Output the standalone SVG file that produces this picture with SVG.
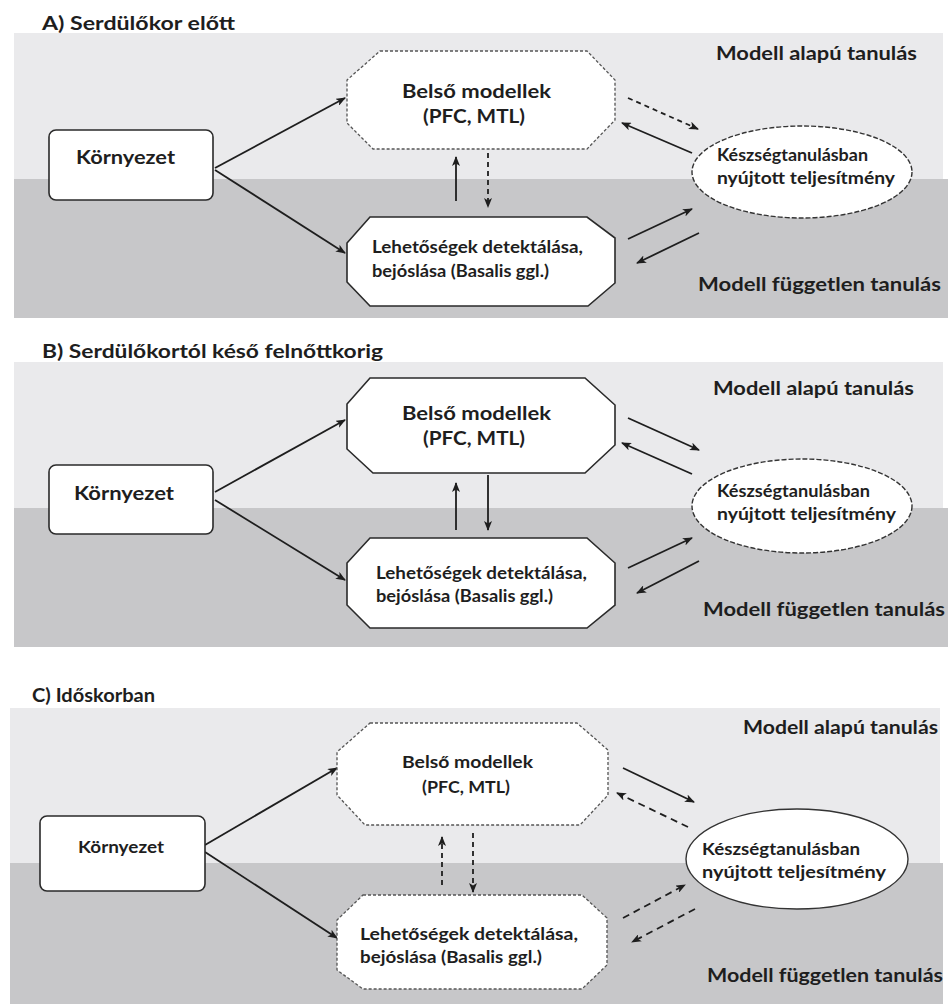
<svg xmlns="http://www.w3.org/2000/svg" width="950" height="1004" viewBox="0 0 950 1004">
<defs>
<style>
.light{fill:#eaeaec}
.dark{fill:#c7c7c9}
.box{fill:#fff;stroke:#2a2a2a;stroke-width:1.6}
.dot{fill:#fff;stroke:#555;stroke-width:1.3;stroke-dasharray:3 2}
.ell{fill:#fff;stroke:#333;stroke-width:1.4;stroke-dasharray:5 2}
.ells{fill:#fff;stroke:#333;stroke-width:1.4}
.t{font-family:Lato,"Open Sans","Liberation Sans",sans-serif;font-weight:bold;fill:#1e1e1e}
.a{fill:none;stroke:#1e1e1e;stroke-width:1.8;marker-end:url(#ah)}
.d{stroke-dasharray:5 4}
.d2{stroke-dasharray:7 5}
</style>
<marker id="ah" viewBox="0 0 10 8" markerWidth="10" markerHeight="8" refX="9" refY="4" orient="auto" markerUnits="userSpaceOnUse">
<path d="M0,0 L10,4 L0,8 L2.5,4 Z" fill="#1e1e1e"/>
</marker>
</defs>

<g id="backgrounds">
<rect class="light" x="14" y="33" width="929" height="146"/>
<rect class="dark" x="14" y="179" width="934" height="139"/>
<rect class="light" x="14" y="362" width="929" height="146"/>
<rect class="dark" x="14" y="508" width="934" height="139"/>
<rect class="light" x="10" y="708" width="930" height="155"/>
<rect class="dark" x="10" y="863" width="933" height="141"/>
</g>

<g id="titles">
<text class="t" x="42" y="30" font-size="19" textLength="193" lengthAdjust="spacingAndGlyphs">A) Serdülőkor előtt</text>
<text class="t" x="42" y="358" font-size="19" textLength="341" lengthAdjust="spacingAndGlyphs">B) Serdülőkortól késő felnőttkorig</text>
<text class="t" x="32" y="702" font-size="18" textLength="123" lengthAdjust="spacingAndGlyphs">C) Időskorban</text>
</g>

<g id="region-labels">
<text class="t" x="716" y="60" font-size="19.5" textLength="201" lengthAdjust="spacingAndGlyphs">Modell alapú tanulás</text>
<text class="t" x="698" y="291" font-size="19.5" textLength="243" lengthAdjust="spacingAndGlyphs">Modell független tanulás</text>
<text class="t" x="713" y="395" font-size="19.5" textLength="201" lengthAdjust="spacingAndGlyphs">Modell alapú tanulás</text>
<text class="t" x="703" y="616" font-size="19.5" textLength="242" lengthAdjust="spacingAndGlyphs">Modell független tanulás</text>
<text class="t" x="743" y="734" font-size="19" textLength="195" lengthAdjust="spacingAndGlyphs">Modell alapú tanulás</text>
<text class="t" x="707" y="982" font-size="19" textLength="236" lengthAdjust="spacingAndGlyphs">Modell független tanulás</text>
</g>

<g id="connectors">
<path class="a" d="M215,168 L345,98"/>
<path class="a" d="M215,170 L345,253"/>
<path class="a" d="M456,201 L456,157"/>
<path class="a d" d="M488,153 L488,207"/>
<path class="a d" d="M628,98 L698,129"/>
<path class="a" d="M692,153 L622,123"/>
<path class="a" d="M628,239 L692,209"/>
<path class="a" d="M699,233 L637,263"/>

<path class="a" d="M215,492 L345,420"/>
<path class="a" d="M215,500 L345,580"/>
<path class="a" d="M456,530 L456,483"/>
<path class="a" d="M488,475 L488,530"/>
<path class="a" d="M628,418 L699,450"/>
<path class="a" d="M692,474 L622,443"/>
<path class="a" d="M628,568 L692,538"/>
<path class="a" d="M699,561 L637,593"/>

<path class="a" d="M205,845 L337,768"/>
<path class="a" d="M205,852 L337,938"/>
<path class="a d" d="M442,885 L442,837"/>
<path class="a d" d="M473,833 L473,892"/>
<path class="a" d="M623,768 L694,802"/>
<path class="a d2" d="M688,827 L617,793"/>
<path class="a d2" d="M623,918 L685,885"/>
<path class="a d2" d="M695,909 L632,942"/>
</g>

<g id="A-kornyezet">
<rect class="box" x="49" y="130" width="164" height="70" rx="7"/>
<text class="t" x="76" y="164" font-size="19.5" textLength="99" lengthAdjust="spacingAndGlyphs">Környezet</text>
</g>
<g id="A-belso">
<path class="dot" d="M380,51 L587,51 L615,80 L615,120 L587,149 L373,149 L347,123 L347,80 Z"/>
<text class="t" x="402" y="98" font-size="19" textLength="149" lengthAdjust="spacingAndGlyphs">Belső modellek</text>
<text class="t" x="423" y="123" font-size="19" textLength="102" lengthAdjust="spacingAndGlyphs">(PFC, MTL)</text>
</g>
<g id="A-lehetosegek">
<path class="box" d="M370,217 L587,217 L615,238 L615,283 L588,306 L370,306 L347,282 L347,243 Z"/>
<text class="t" x="372" y="253" font-size="16.5" textLength="211" lengthAdjust="spacingAndGlyphs">Lehetőségek detektálása,</text>
<text class="t" x="372" y="277" font-size="16.5" textLength="177" lengthAdjust="spacingAndGlyphs">bejóslása (Basalis ggl.)</text>
</g>
<g id="A-teljesitmeny">
<ellipse class="ell" cx="802" cy="172" rx="110" ry="46"/>
<text class="t" x="717" y="161" font-size="16.5" textLength="151" lengthAdjust="spacingAndGlyphs">Készségtanulásban</text>
<text class="t" x="717" y="184" font-size="16.5" textLength="178" lengthAdjust="spacingAndGlyphs">nyújtott teljesítmény</text>
</g>

<g id="B-kornyezet">
<rect class="box" x="49" y="465" width="164" height="69" rx="7"/>
<text class="t" x="74" y="500" font-size="19.5" textLength="100" lengthAdjust="spacingAndGlyphs">Környezet</text>
</g>
<g id="B-belso">
<path class="box" d="M370,378 L585,378 L615,405 L615,445 L585,473 L373,473 L347,449 L347,404 Z"/>
<text class="t" x="402" y="420" font-size="19" textLength="149" lengthAdjust="spacingAndGlyphs">Belső modellek</text>
<text class="t" x="423" y="445" font-size="19" textLength="102" lengthAdjust="spacingAndGlyphs">(PFC, MTL)</text>
</g>
<g id="B-lehetosegek">
<path class="box" d="M370,538 L587,538 L615,563 L615,605 L587,628 L370,628 L347,605 L347,563 Z"/>
<text class="t" x="376" y="579" font-size="16.5" textLength="211" lengthAdjust="spacingAndGlyphs">Lehetőségek detektálása,</text>
<text class="t" x="376" y="602" font-size="16.5" textLength="177" lengthAdjust="spacingAndGlyphs">bejóslása (Basalis ggl.)</text>
</g>
<g id="B-teljesitmeny">
<ellipse class="ell" cx="802" cy="506" rx="110" ry="47"/>
<text class="t" x="717" y="497" font-size="16.5" textLength="153" lengthAdjust="spacingAndGlyphs">Készségtanulásban</text>
<text class="t" x="717" y="520" font-size="16.5" textLength="179" lengthAdjust="spacingAndGlyphs">nyújtott teljesítmény</text>
</g>

<g id="C-kornyezet">
<rect class="box" x="40" y="816" width="165" height="75" rx="7"/>
<text class="t" x="78" y="853" font-size="17.5" textLength="86" lengthAdjust="spacingAndGlyphs">Környezet</text>
</g>
<g id="C-belso">
<path class="dot" d="M370,723 L577,723 L608,750 L608,795 L580,825 L365,825 L337,795 L337,752 Z"/>
<text class="t" x="402" y="768" font-size="17" textLength="131" lengthAdjust="spacingAndGlyphs">Belső modellek</text>
<text class="t" x="422" y="793" font-size="17" textLength="88" lengthAdjust="spacingAndGlyphs">(PFC, MTL)</text>
</g>
<g id="C-lehetosegek">
<path class="dot" d="M363,895 L582,895 L607,918 L607,965 L582,989 L363,989 L337,970 L337,920 Z"/>
<text class="t" x="360" y="940" font-size="17.5" textLength="218" lengthAdjust="spacingAndGlyphs">Lehetőségek detektálása,</text>
<text class="t" x="360" y="963" font-size="17.5" textLength="182" lengthAdjust="spacingAndGlyphs">bejóslása (Basalis ggl.)</text>
</g>
<g id="C-teljesitmeny">
<ellipse class="ells" cx="797" cy="859" rx="111" ry="50"/>
<text class="t" x="702" y="855" font-size="17.5" textLength="158" lengthAdjust="spacingAndGlyphs">Készségtanulásban</text>
<text class="t" x="702" y="878" font-size="17.5" textLength="184" lengthAdjust="spacingAndGlyphs">nyújtott teljesítmény</text>
</g>
</svg>
